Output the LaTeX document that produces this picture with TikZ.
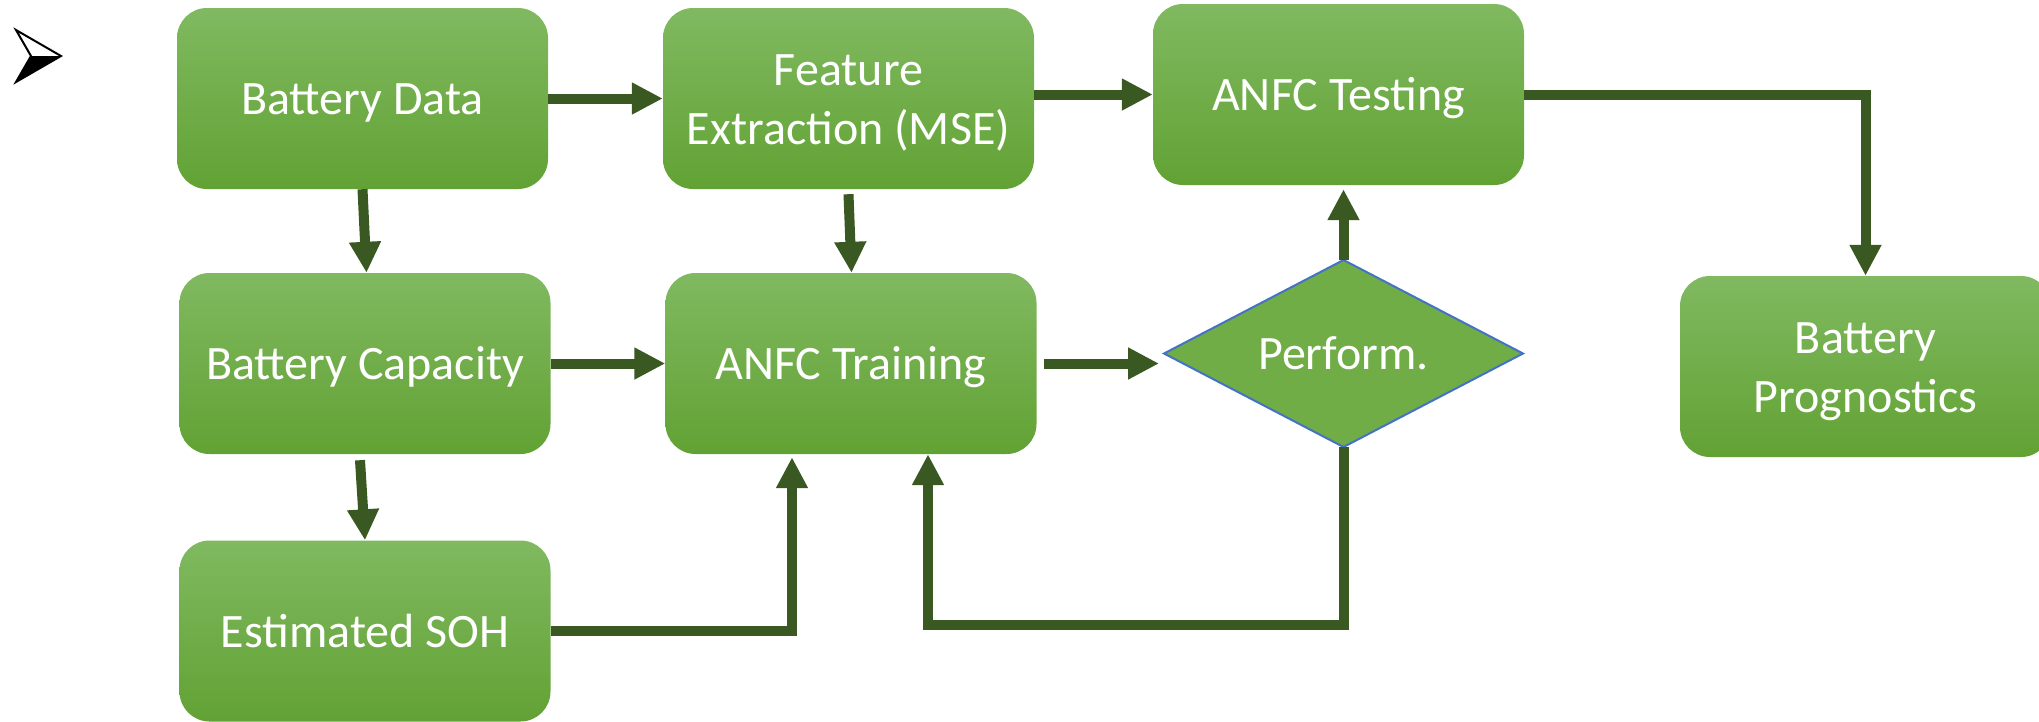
\documentclass[tikz,border=0pt]{standalone}
\usepackage{fontspec}
\setmainfont{Carlito}
\usetikzlibrary{arrows.meta,shapes.geometric,calc}
\definecolor{boxtop}{RGB}{128,185,96}
\definecolor{boxbot}{RGB}{98,162,52}
\definecolor{arr}{RGB}{58,88,34}
\definecolor{dmfill}{RGB}{112,173,71}
\definecolor{dmline}{RGB}{68,114,196}
\begin{document}
\begin{tikzpicture}[x=1pt,y=-1pt,
  box/.style={rectangle, rounded corners=30pt, top color=boxtop, bottom color=boxbot,
    draw=none, minimum width=371pt, minimum height=181pt, inner sep=0pt, text=white,
    font=\fontsize{48}{59}\selectfont, align=center, text height=32pt, text depth=0pt},
  boxtwo/.style={box, text height=91pt, text depth=0pt},
  dec/.style={diamond, fill=dmfill, draw=dmline, line width=2pt, minimum width=359pt,
    minimum height=187pt, inner sep=0pt, outer sep=0pt},
  dectext/.style={inner sep=0pt, text=white,
    font=\fontsize{48}{59}\selectfont, text height=32pt, text depth=0pt},
  flow/.style={draw=arr, line width=10pt, -{Triangle[length=31pt,width=30pt]}},
]
\useasboundingbox (0,0) rectangle (2039,721);
% glyph
\fill[white] (16,30) -- (61,56) -- (31,56) -- cycle;
\fill[black] (31,56) -- (61,56) -- (16,82) -- cycle;
\draw[black, line width=2pt, line join=miter] (16,30) -- (61,56) -- (16,82) -- (31,56) -- cycle;
% nodes
\node[box] (bd) at (362.5,98.5) {Battery Data};
\node[boxtwo] (fe) at (848.5,98.5) {Feature\\Extraction (MSE)};
\node[box] (at) at (1338.5,94.5) {ANFC Testing};
\node[box] (bc) at (365,363.5) {Battery Capacity};
\node[box] (tr) at (851,363.5) {ANFC Training};
\node[box] (soh) at (365,631) {Estimated SOH};
\node[boxtwo] (bp) at (1865.5,366.5) {Battery\\Prognostics};
\node[dec] (dm) at (1343.5,353.5) {};
\node[dectext] (dmt) at (dm.center) {Perform.};
% connectors
\draw[flow] (bd.east) -- (fe.west |- bd.east);
\draw[flow] (fe.east |- at.west) -- (at.west);
\draw[flow] (at.east) -| (bp.north);
\draw[flow] (bd.south) -- ([xshift=4pt]bd.south |- bc.north);
\draw[flow] ([yshift=-5pt]fe.south) -- ([xshift=3pt]fe.south |- tr.north);
\draw[flow] (bc.east) -- (tr.west);
\draw[flow] ([xshift=7pt]tr.east) -- ($(dm.west |- tr.east)+(-5,0)$);
\draw[flow] (dm.north) -- ($(dm.north |- at.south)+(0,4)$);
\draw[flow] ([xshift=-5pt,yshift=-6pt]bc.south) -- (soh.north);
\draw[flow] (soh.east) -| ($(tr.south)+(-59,3)$);
\draw[flow] (dm.south) -- ++(0,178) -| ($(tr.south)+(77,0)$);
\end{tikzpicture}
\end{document}
